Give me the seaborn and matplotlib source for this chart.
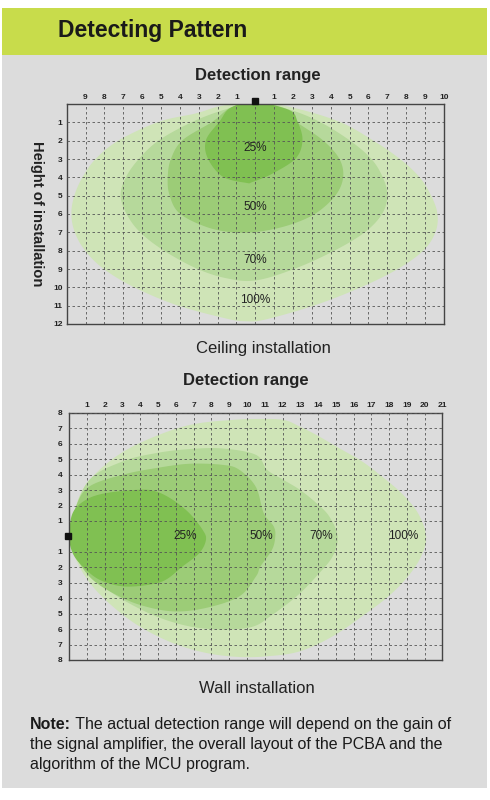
import matplotlib
matplotlib.use("Agg")
import matplotlib.pyplot as plt
import numpy as np
import seaborn as sns
from matplotlib.patches import Rectangle

# ceiling installation zones (x = lateral metres, y = height)
ceil_labels = ["100%", "70%", "50%", "25%"]
ceil_100_x = [0, 2.0, 4.44, 6.2, 7.62, 8.68, 9.3, 9.65, 9.56, 8.94, 7.62, 5.68, 3.21, 0.56,
              -0.5, -1.55, -4.2, -6.49, -8.08, -9.05, -9.58, -9.75, -9.58, -9.14, -8.43,
              -7.2, -5.08, -3.14, -1.8]
ceil_100_y = [-0.1, 0.2, 0.96, 1.96, 2.96, 3.96, 4.96, 5.96, 6.96, 7.96, 8.96, 9.96, 10.96,
              11.75, 11.85, 11.7, 10.96, 9.96, 8.96, 7.96, 6.96, 5.96, 4.96, 3.96, 2.96,
              1.96, 0.96, 0.51, 0.1]
ceil_70_x = [0, 1.8, 3.39, 4.97, 6.12, 6.74, 7.0, 6.74, 5.85, 4.27, 2.15, 0.04, -1.55, -3.14,
             -4.9, -6.14, -6.84, -7.14, -6.84, -6.14, -5.08, -3.3, -1.6]
ceil_70_y = [-0.1, 0.3, 0.96, 1.96, 2.96, 3.96, 4.96, 5.96, 6.96, 7.96, 8.96, 9.62, 9.5, 8.96,
             7.96, 6.96, 5.96, 4.96, 3.96, 2.96, 1.96, 0.96, 0.3]
ceil_50_x = [0, 1.2, 2.15, 3.56, 4.44, 4.66, 4.27, 3.21, 1.8, 0.2, -1.2, -2.61, -4.02, -4.55,
             -4.64, -4.46, -3.84, -2.26, -1.3]
ceil_50_y = [-0.1, 0.2, 0.96, 1.96, 2.96, 3.96, 4.96, 5.96, 6.6, 6.96, 7.0, 6.7, 5.96, 4.96,
             3.96, 2.96, 1.96, 0.96, 0.2]
ceil_25_x = [0, 1.8, 2.24, 2.5, 2.15, 0.92, -0.14, -0.49, -1.73, -2.52, -2.61, -1.9, -1.3]
ceil_25_y = [-0.1, 0.33, 0.96, 1.96, 2.96, 3.79, 4.25, 4.3, 3.96, 2.96, 1.96, 0.96, 0.2]
ceil_label_y = [10.7, 8.5, 5.6, 2.4]

# wall installation zones (x = distance, y = lateral offset)
wall_labels = ["100%", "70%", "50%", "25%"]
wall_100_x = [0, 0.38, 0.75, 1.5, 2.63, 3.94, 5.82, 7.32, 9.19, 10.5, 12.05, 12.97, 13.9,
              15.19, 16.48, 17.59, 18.69, 19.62, 20.08, 19.8, 19.06, 17.96, 16.48, 14.82,
              12.97, 11.13, 9.5, 7.69, 5.82, 3.94, 2.44, 1.31, 0.56, 0.19]
wall_100_y = [0, 1.94, 3.02, 4.09, 5.17, 6.03, 6.9, 7.33, 7.54, 7.6, 7.54, 7.11, 6.57, 5.71,
              4.85, 3.88, 2.8, 1.51, 0, -1.29, -2.59, -3.88, -5.17, -6.47, -7.44, -7.76,
              -7.8, -7.54, -6.9, -5.82, -4.53, -3.23, -1.94, -0.86]
wall_70_x = [0, 0.19, 1.13, 3.0, 4.88, 6.75, 8.63, 10.5, 11.13, 12.05, 12.97, 13.9, 14.63,
             15.1, 14.82, 13.9, 12.79, 11.31, 10.3, 8.63, 6.75, 4.88, 3.0, 1.69, 0.75, 0.15]
wall_70_y = [0, 1.29, 3.66, 4.85, 5.39, 5.65, 5.69, 5.28, 4.31, 3.66, 3.02, 2.16, 1.29, 0,
             -1.29, -2.59, -3.88, -5.17, -5.85, -6.03, -5.82, -5.17, -4.09, -3.02, -1.94, -0.8]
wall_50_x = [0, 0.38, 1.13, 3.0, 4.88, 6.75, 8.63, 9.57, 10.5, 10.94, 11.5, 11.59, 11.41,
             10.76, 10.5, 9.57, 7.69, 5.82, 3.94, 2.44, 1.31, 0.56, 0.15]
wall_50_y = [0, 1.94, 3.23, 3.99, 4.42, 4.7, 4.63, 4.31, 3.2, 1.51, 0.65, 0, -0.86, -1.94,
             -2.6, -3.88, -4.63, -4.85, -4.42, -3.66, -2.8, -1.72, -0.7]
wall_25_x = [0, 0.19, 0.94, 2.06, 3.94, 4.88, 5.82, 6.75, 7.5, 7.69, 7.32, 6.38, 5.44, 4.5,
             3.0, 1.69, 0.75, 0.19]
wall_25_y = [0, 1.51, 2.37, 2.8, 3.02, 2.91, 2.37, 1.51, 0.43, -0.22, -1.08, -1.94, -2.8,
             -3.13, -3.23, -2.8, -1.94, -1.08]
wall_label_x = [18.8, 14.2, 10.8, 6.5]

ceil_xticks = list(range(-9, 11))
ceil_yticks = list(range(1, 13))
wall_xticks = list(range(1, 22))
wall_yticks = [t for t in range(-8, 9) if t != 0]

note_bold = "Note:"
note_lines = [" The actual detection range will depend on the gain of",
              "the signal amplifier, the overall layout of the PCBA and the",
              "algorithm of the MCU program."]

ZONE_COLORS = sns.color_palette(["#cfe4b7", "#b6d99b", "#9ccc77", "#80c052"])
BG = "#dcdcdc"
HEADER = "#c8dc4b"
GRID = "#555555"


def smooth_closed(xs, ys, n=24):
    # closed catmull-rom through the traced points
    p = np.column_stack([xs, ys]).astype(float)
    k = len(p)
    t = np.linspace(0, 1, n, endpoint=False)[:, None]
    out = []
    for i in range(k):
        p0, p1, p2, p3 = p[i - 1], p[i], p[(i + 1) % k], p[(i + 2) % k]
        seg = 0.5 * (2 * p1 + (-p0 + p2) * t + (2 * p0 - 5 * p1 + 4 * p2 - p3) * t ** 2
                     + (-p0 + 3 * p1 - 3 * p2 + p3) * t ** 3)
        out.append(seg)
    out = np.vstack(out)
    return out[:, 0], out[:, 1]


def style_axes(ax):
    ax.set_facecolor(BG)
    ax.set_axisbelow(False)
    ax.grid(True, color=GRID, linestyle=(0, (3, 3)), linewidth=0.6)
    for s in ax.spines.values():
        s.set_visible(True)
        s.set_color("#444444")
        s.set_linewidth(1.0)
    ax.tick_params(length=0, labelsize=6, colors="#222222")
    for lab in ax.get_xticklabels() + ax.get_yticklabels():
        lab.set_fontweight("bold")


sns.set_theme(style="white")
plt.rcParams["font.family"] = ["Liberation Sans", "DejaVu Sans"]

fig = plt.figure(figsize=(4.9, 8.0), dpi=100)
fig.patch.set_facecolor("white")
fig.patches.append(Rectangle((0.004, 0.015), 0.99, 0.916, transform=fig.transFigure,
                             facecolor=BG, edgecolor="none", zorder=-2))
fig.patches.append(Rectangle((0.004, 0.931), 0.99, 0.059, transform=fig.transFigure,
                             facecolor=HEADER, edgecolor="none", zorder=-2))
fig.text(0.118, 0.9625, "Detecting Pattern", fontsize=16.5, fontweight="bold",
         color="#1a1a1a", va="center", ha="left")

# ceiling installation
ax1 = fig.add_axes([0.136, 0.595, 0.770, 0.275])
ceil_zones = [(ceil_100_x, ceil_100_y), (ceil_70_x, ceil_70_y),
              (ceil_50_x, ceil_50_y), (ceil_25_x, ceil_25_y)]
for (zx, zy), col in zip(ceil_zones, ZONE_COLORS):
    sx, sy = smooth_closed(zx, zy)
    ax1.fill(sx, sy, color=col, linewidth=0, zorder=1)
for lab, ly in zip(ceil_labels, ceil_label_y):
    ax1.text(0, ly, lab, ha="center", va="center", fontsize=8.5, color="#222222", zorder=4)
ax1.set_xlim(-10, 10)
ax1.set_ylim(12, 0)
ax1.xaxis.tick_top()
ax1.set_xticks(ceil_xticks)
ax1.set_xticklabels([str(abs(t)) if t != 0 else "" for t in ceil_xticks])
ax1.set_yticks(ceil_yticks)
ax1.set_yticklabels([str(t) for t in ceil_yticks])
style_axes(ax1)
ax1.tick_params(axis="x", pad=2)
ax1.tick_params(axis="y", pad=3)
ax1.plot([0], [-0.17], marker="s", markersize=4.5, color="#111111", clip_on=False, zorder=5)

fig.text(0.527, 0.906, "Detection range", fontsize=12, fontweight="bold",
         color="#222222", ha="center", va="center")
fig.text(0.075, 0.733, "Height of installation", fontsize=10.6, fontweight="bold",
         color="#222222", ha="center", va="center", rotation=270)
fig.text(0.537, 0.565, "Ceiling installation", fontsize=12, color="#222222",
         ha="center", va="center")

# wall installation
ax2 = fig.add_axes([0.1414, 0.175, 0.7616, 0.309])
wall_zones = [(wall_100_x, wall_100_y), (wall_70_x, wall_70_y),
              (wall_50_x, wall_50_y), (wall_25_x, wall_25_y)]
for (zx, zy), col in zip(wall_zones, ZONE_COLORS):
    sx, sy = smooth_closed(zx, zy)
    ax2.fill(sx, sy, color=col, linewidth=0, zorder=1)
for lab, lx in zip(wall_labels, wall_label_x):
    ax2.text(lx, 0, lab, ha="center", va="center", fontsize=8.5, color="#222222", zorder=4)
ax2.set_xlim(0, 21)
ax2.set_ylim(-8, 8)
ax2.xaxis.tick_top()
ax2.set_xticks(wall_xticks)
ax2.set_xticklabels([str(t) for t in wall_xticks])
ax2.set_yticks(wall_yticks)
ax2.set_yticklabels([str(abs(t)) for t in wall_yticks])
style_axes(ax2)
ax2.tick_params(axis="x", pad=3)
ax2.tick_params(axis="y", pad=5)
ax2.plot([-0.1], [0], marker="s", markersize=4.5, color="#111111", clip_on=False, zorder=5)

fig.text(0.502, 0.524, "Detection range", fontsize=12, fontweight="bold",
         color="#222222", ha="center", va="center")
fig.text(0.524, 0.139, "Wall installation", fontsize=12, color="#222222",
         ha="center", va="center")

# note, first word in bold
fig.canvas.draw()
rend = fig.canvas.get_renderer()
t0 = fig.text(0.061, 0.094, note_bold, fontsize=11.5, fontweight="bold", color="#1a1a1a",
              ha="left", va="center")
bb = t0.get_window_extent(renderer=rend)
x_after = fig.transFigure.inverted().transform((bb.x1, bb.y0))[0]
fig.text(x_after, 0.094, note_lines[0], fontsize=11.5, color="#1a1a1a", ha="left", va="center")
fig.text(0.061, 0.0695, note_lines[1], fontsize=11.5, color="#1a1a1a", ha="left", va="center")
fig.text(0.061, 0.045, note_lines[2], fontsize=11.5, color="#1a1a1a", ha="left", va="center")

fig.savefig("out.png", dpi=100, facecolor="white")
